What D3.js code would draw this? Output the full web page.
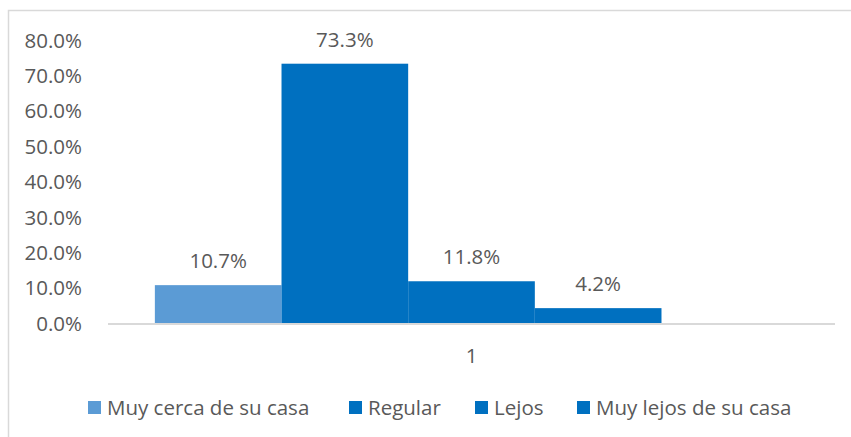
<!DOCTYPE html>
<html>
<head>
<meta charset="utf-8">
<script src="https://cdn.jsdelivr.net/npm/d3@7"></script>
<style>
  body { margin: 0; background: #fff; }
  text { font-family: "Open Sans", sans-serif; fill: #595959; }
</style>
</head>
<body>
<div id="chart"></div>
<script>
var categories = ['1'];
var seriesNames = ['Muy cerca de su casa', 'Regular', 'Lejos', 'Muy lejos de su casa'];
var seriesValues = [0.107, 0.733, 0.118, 0.042];
var seriesColors = ['#5B9BD5', '#0070C0', '#0070C0', '#0070C0'];
var tickValues = [0, 0.1, 0.2, 0.3, 0.4, 0.5, 0.6, 0.7, 0.8];

var width = 851, height = 437;
var margin = { top: 40, right: 16, bottom: 114, left: 108 };
var fontSize = 20.5;

var svg = d3.select('#chart').append('svg')
  .attr('width', width)
  .attr('height', height);

// chart frame (only top and left visible in the crop)
svg.append('path')
  .attr('d', 'M8.5,' + height + 'V10.5H' + width)
  .attr('fill', 'none')
  .attr('stroke', '#D9D9D9')
  .attr('stroke-width', 1.5);

var y = d3.scaleLinear()
  .domain([0, 0.8])
  .range([height - margin.bottom, margin.top]);

var x = d3.scaleBand()
  .domain(categories)
  .range([margin.left, width - margin.right])
  .paddingInner(0)
  .paddingOuter(0.074);

// an empty fifth slot, as in the original workbook
var slots = seriesNames.concat(['']);
var xs = d3.scaleBand()
  .domain(slots)
  .range([0, x.bandwidth()]);

var fmt = d3.format('.1%');

var yAxis = svg.append('g')
  .attr('transform', 'translate(' + (margin.left - 23) + ',0)')
  .call(d3.axisLeft(y).tickValues(tickValues).tickFormat(fmt).tickSize(0));
yAxis.select('.domain').remove();
yAxis.selectAll('text').attr('font-size', fontSize).attr('dy', '0.35em');

svg.append('line')
  .attr('x1', margin.left).attr('x2', width - margin.right)
  .attr('y1', y(0) + 1).attr('y2', y(0) + 1)
  .attr('stroke', '#D9D9D9')
  .attr('stroke-width', 2);

var bars = categories.map(function(c) {
  return seriesNames.map(function(s, i) {
    return { cat: c, name: s, value: seriesValues[i], color: seriesColors[i] };
  });
});

var g = svg.selectAll('.cat')
  .data(bars)
  .enter().append('g')
  .attr('transform', function(d, i) { return 'translate(' + x(categories[i]) + ',0)'; });

g.selectAll('rect')
  .data(function(d) { return d; })
  .enter().append('rect')
  .attr('x', function(d) { return xs(d.name); })
  .attr('width', xs.bandwidth())
  .attr('y', function(d) { return y(d.value); })
  .attr('height', function(d) { return y(0) - y(d.value); })
  .attr('fill', function(d) { return d.color; });

g.selectAll('.lbl')
  .data(function(d) { return d; })
  .enter().append('text')
  .attr('class', 'lbl')
  .attr('x', function(d) { return xs(d.name) + xs.bandwidth() / 2; })
  .attr('y', function(d) { return y(d.value) - 17; })
  .attr('text-anchor', 'middle')
  .attr('font-size', fontSize)
  .text(function(d) { return fmt(d.value); });

svg.selectAll('.xlbl')
  .data(categories)
  .enter().append('text')
  .attr('x', function(d) { return x(d) + x.bandwidth() / 2; })
  .attr('y', 363)
  .attr('text-anchor', 'middle')
  .attr('font-size', fontSize)
  .text(function(d) { return d; });

// legend
var legendX = [88, 349, 475, 577];
var legend = svg.selectAll('.leg')
  .data(seriesNames)
  .enter().append('g')
  .attr('transform', function(d, i) { return 'translate(' + legendX[i] + ',401)'; });
legend.append('rect')
  .attr('width', 13).attr('height', 13)
  .attr('fill', function(d, i) { return seriesColors[i]; });
legend.append('text')
  .attr('x', 19)
  .attr('y', 7)
  .attr('dy', '0.35em')
  .attr('font-size', fontSize)
  .text(function(d) { return d; });
</script>
</body>
</html>
